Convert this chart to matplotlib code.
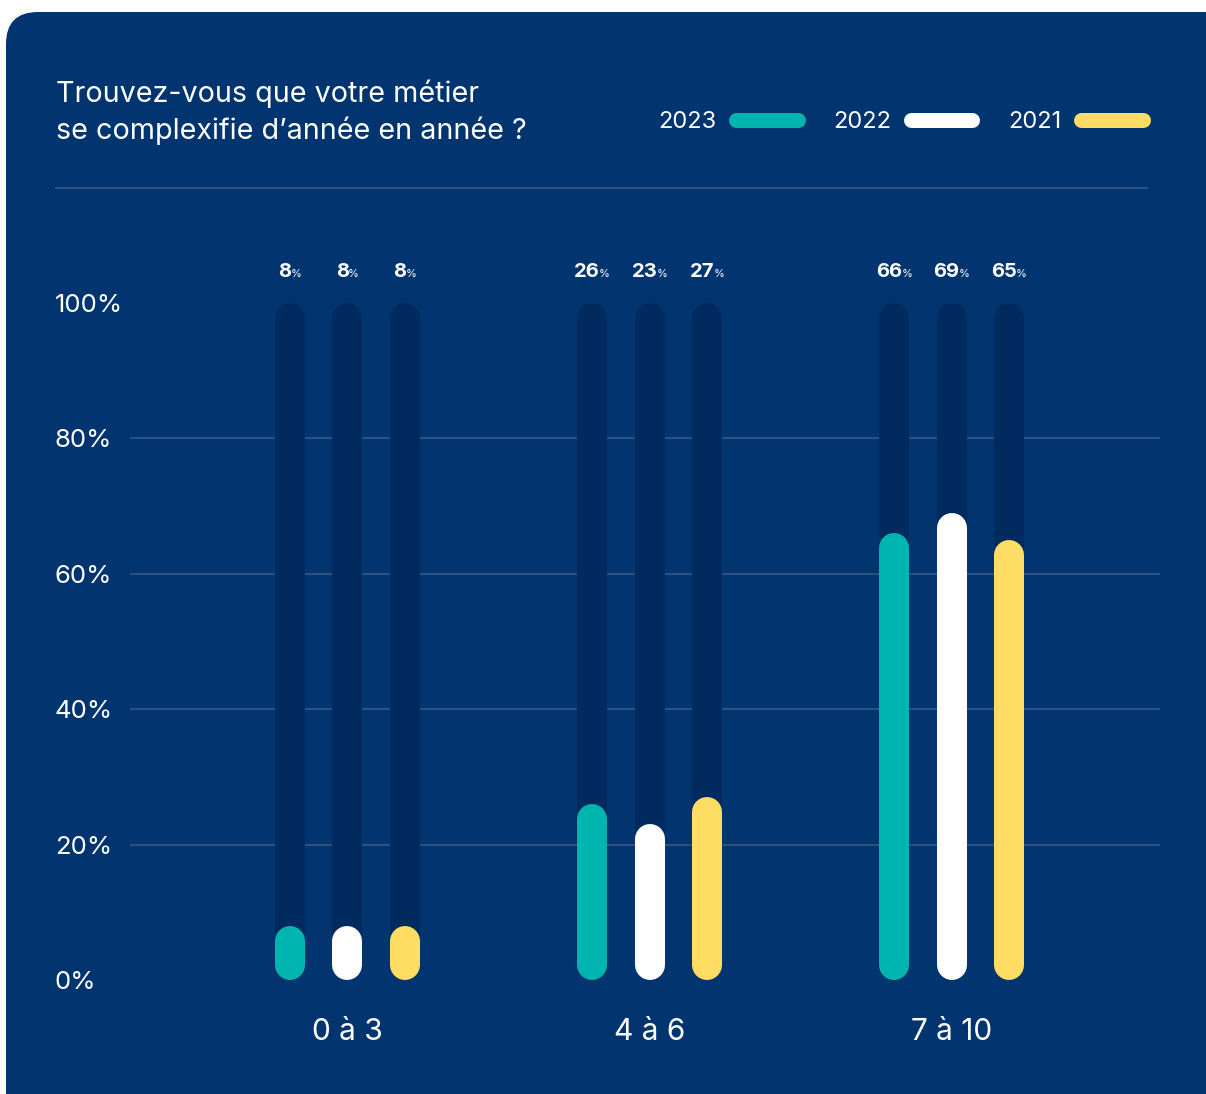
import matplotlib
matplotlib.use('Agg')
import matplotlib.pyplot as plt
from matplotlib.patches import FancyBboxPatch
from matplotlib.lines import Line2D
from matplotlib.offsetbox import TextArea, HPacker, AnnotationBbox

plt.rcParams['font.family'] = ['Inter', 'DejaVu Sans']

# Data
categories = ['0 à 3', '4 à 6', '7 à 10']
years = ['2023', '2022', '2021']
values_2023 = [8, 26, 66]
values_2022 = [8, 23, 69]
values_2021 = [8, 27, 65]
y_ticks = [0, 20, 40, 60, 80, 100]
y_tick_labels = ['0%', '20%', '40%', '60%', '80%', '100%']
title_lines = ['Trouvez-vous que votre métier', 'se complexifie d’année en année ?']

series = [values_2023, values_2022, values_2021]
colors = ['#00b4b0', '#ffffff', '#ffdd62']
BG = '#023570'
TRACK = '#012b5e'
GRID = '#2b5082'

W, H = 1206, 1094
fig = plt.figure(figsize=(W / 100, H / 100), dpi=100)
fig.patch.set_facecolor('white')

# background card, in pixel coordinates
bg = fig.add_axes([0, 0, 1, 1])
bg.set_xlim(0, W)
bg.set_ylim(H, 0)
bg.axis('off')
bg.add_patch(FancyBboxPatch((6, 12), W + 60, H + 60,
                            boxstyle='round,pad=0,rounding_size=32',
                            fc=BG, ec='none'))
bg.text(56, 102, title_lines[0], color='white', fontsize=20.7, va='baseline')
bg.text(56, 139, title_lines[1], color='white', fontsize=20.7, va='baseline')
bg.plot([56, 1147], [188, 188], color=GRID, lw=1.5)

# main chart
ax_px = (130, 303, 1160, 980)  # left, top, right, bottom
ax = fig.add_axes([ax_px[0] / W, 1 - ax_px[3] / H,
                   (ax_px[2] - ax_px[0]) / W, (ax_px[3] - ax_px[1]) / H])
ax.patch.set_visible(False)
for s in ax.spines.values():
    s.set_visible(False)
ax.set_xlim(-0.72, 2.69)
ax.set_ylim(0, 100)

bar_px = 30
lw = bar_px * 0.72
r = 100 * (bar_px / 2) / (ax_px[3] - ax_px[1])
offsets = [-0.19, 0.0, 0.19]

for t in y_ticks[1:-1]:
    ax.axhline(t, color=GRID, lw=1.5, zorder=0)

for j, vals in enumerate(series):
    for i, v in enumerate(vals):
        x = i + offsets[j]
        ax.plot([x, x], [r, 100 - r], color=TRACK, lw=lw,
                solid_capstyle='round', zorder=1)
        ax.plot([x, x], [r, v - r], color=colors[j], lw=lw,
                solid_capstyle='round', zorder=3)
        box = HPacker(children=[
            TextArea(str(v), textprops=dict(color='white', fontsize=14.5, fontweight='bold')),
            TextArea('%', textprops=dict(color='white', fontsize=8)),
        ], align='baseline', pad=0, sep=-0.5)
        ab = AnnotationBbox(box, (x, 100), xybox=(0, 22), boxcoords='offset points',
                            box_alignment=(0.5, 0.5), frameon=False, annotation_clip=False)
        ax.add_artist(ab)

ax.set_yticks(y_ticks, y_tick_labels)
ax.tick_params(axis='y', length=0, pad=75 * 0.72, labelsize=18.5, labelcolor='white')
for lbl in ax.get_yticklabels():
    lbl.set_ha('left')
ax.set_xticks(range(len(categories)), categories)
ax.tick_params(axis='x', length=0, pad=27, labelsize=21.5, labelcolor='white')

# legend
handles = [Line2D([], [], color=c, lw=15 * 0.72, solid_capstyle='round') for c in colors]
fig.legend(handles, years, loc='center right',
           bbox_to_anchor=((1150 - 7.5) / W, 1 - 122 / H),
           ncol=3, frameon=False, markerfirst=False, fontsize=17,
           labelcolor='white', handlelength=2.6, handletextpad=0.85,
           columnspacing=1.5, borderpad=0, borderaxespad=0)

fig.savefig('out.png', dpi=100)
